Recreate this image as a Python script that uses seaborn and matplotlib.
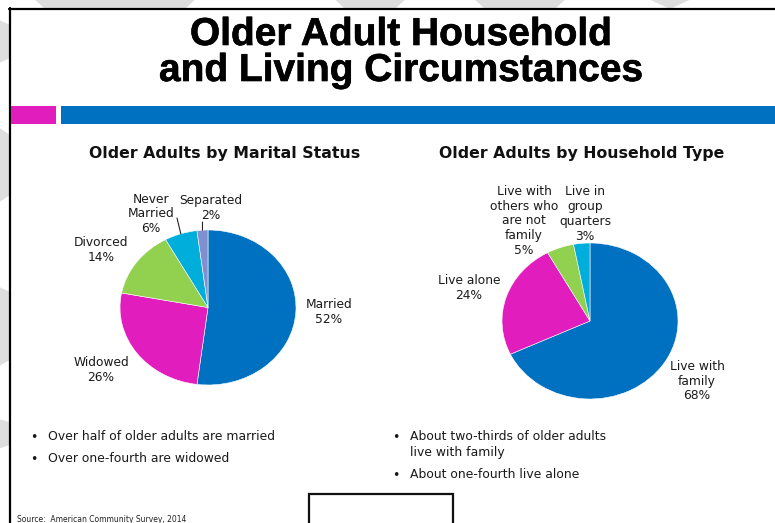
import numpy as np
import matplotlib
matplotlib.use("Agg")
import matplotlib.pyplot as plt
import matplotlib.patheffects as pe
from matplotlib.patches import Rectangle, Polygon
import seaborn as sns

# ---- data -------------------------------------------------------------
marital_labels = ["Married", "Widowed", "Divorced", "Never\nMarried", "Separated"]
marital_values = [52, 26, 14, 6, 2]

household_labels = ["Live with\nfamily", "Live alone",
                    "Live with\nothers who\nare not\nfamily",
                    "Live in\ngroup\nquarters"]
household_values = [68, 24, 5, 3]

title_text = "Older Adult Household\nand Living Circumstances"
marital_title = "Older Adults by Marital Status"
household_title = "Older Adults by Household Type"
marital_notes = ["Over half of older adults are married",
                 "Over one-fourth are widowed"]
household_notes = ["About two-thirds of older adults\nlive with family",
                   "About one-fourth live alone"]
source_text = "Source:  American Community Survey, 2014"

# ---- style ------------------------------------------------------------
sns.set_theme(style="white")
plt.rcParams["font.family"] = ["DejaVu Sans"]

BLUE = "#0070C0"
MAGENTA = "#E21DBD"
GREEN = "#92D050"
CYAN = "#00AEDB"
LAVENDER = "#7F8FD0"
marital_colors = [BLUE, MAGENTA, GREEN, CYAN, LAVENDER]
household_colors = [BLUE, MAGENTA, GREEN, CYAN]

W, H = 775, 523
fig = plt.figure(figsize=(W / 100, H / 100), dpi=100)
fig.patch.set_facecolor("white")


def fx(x):
    return x / W


def fy(y):
    return 1 - y / H


def px_rect(x0, y0, x1, y1, **kw):
    return Rectangle((fx(x0), fy(y1)), (x1 - x0) / W, (y1 - y0) / H,
                     transform=fig.transFigure, **kw)


# faint diagonal stripes behind the slide
grey = "#DEDEDE"
stripe_shapes = [
    [(30, -5), (200, -5), (185, 9), (45, 9)],
    [(330, -5), (410, -5), (395, 9), (345, 9)],
    [(470, -5), (570, -5), (555, 9), (485, 9)],
    [(640, -5), (700, -5), (670, 9)],
    [(-5, 18), (10, 25), (10, 58), (-5, 65)],
    [(-5, 125), (10, 135), (10, 195), (-5, 205)],
    [(-5, 285), (10, 292), (10, 360), (-5, 368)],
    [(-5, 418), (10, 422), (10, 445), (-5, 450)],
]
for pts in stripe_shapes:
    fig.patches.append(Polygon([(fx(a), fy(b)) for a, b in pts], closed=True,
                               transform=fig.transFigure, facecolor=grey,
                               edgecolor="none", zorder=0))

# slide body with its border
fig.patches.append(px_rect(10, 9, 800, 540, facecolor="white",
                           edgecolor="none", zorder=1))
fig.lines.append(plt.Line2D([fx(9), fx(800)], [fy(9), fy(9)],
                            transform=fig.transFigure, color="black",
                            linewidth=1.6, zorder=2))
fig.lines.append(plt.Line2D([fx(10), fx(10)], [fy(8), fy(540)],
                            transform=fig.transFigure, color="black",
                            linewidth=1.6, zorder=2))

# header bars
fig.patches.append(px_rect(11, 106, 56, 124, facecolor=MAGENTA,
                           edgecolor="none", zorder=2))
fig.patches.append(px_rect(61, 106, 800, 124, facecolor=BLUE,
                           edgecolor="none", zorder=2))

# title
fig.text(fx(401), fy(53), title_text, ha="center", va="center",
         fontsize=28, fontweight="bold", family="Liberation Sans",
         linespacing=1.0, color="black", zorder=3,
         path_effects=[pe.withStroke(linewidth=0.45, foreground="black")])

# panel headings
fig.text(fx(225), fy(153), marital_title, ha="center", va="center",
         fontsize=11.3, fontweight="bold", color="#111111", zorder=3)
fig.text(fx(582), fy(153), household_title, ha="center", va="center",
         fontsize=11.3, fontweight="bold", color="#111111", zorder=3)


def draw_pie(cx, cy, rx, ry, values, colors):
    ax = fig.add_axes([fx(cx - rx), fy(cy + ry), 2 * rx / W, 2 * ry / H])
    ax.pie(values, colors=colors, startangle=90, counterclock=False,
           wedgeprops=dict(edgecolor="white", linewidth=0.4))
    ax.set_aspect("auto")
    ax.set_xlim(-1, 1)
    ax.set_ylim(-1, 1)
    ax.axis("off")
    ax.set_zorder(3)
    return ax


def mid_point(values, i):
    total = float(sum(values))
    start = 90 - 360 * sum(values[:i]) / total
    end = 90 - 360 * sum(values[:i + 1]) / total
    a = np.deg2rad((start + end) / 2)
    return np.cos(a), np.sin(a)


label_kw = dict(ha="center", va="center", fontsize=8.8, linespacing=1.17,
                color="#1a1a1a", zorder=4)

# marital status pie
ax1 = draw_pie(208, 307.5, 88, 77.5, marital_values, marital_colors)
marital_pos = [(329, 312), (101, 370), (101, 250), (151, 214), (211, 208)]
for lab, v, (x, y) in zip(marital_labels, marital_values, marital_pos):
    fig.text(fx(x), fy(y), f"{lab}\n{v}%", **label_kw)
# leader lines for the two thin slices
for i, (tx, ty) in [(3, (177, 218)), (4, (202.5, 222))]:
    ax1.annotate("", xy=mid_point(marital_values, i), xycoords="data",
                 xytext=(tx, H - ty), textcoords="figure pixels",
                 arrowprops=dict(arrowstyle="-", color="#222222", lw=0.8,
                                 shrinkA=0, shrinkB=0))

# household type pie
ax2 = draw_pie(590, 321, 88, 78, household_values, household_colors)
household_pos = [(697, 381), (469, 288), (524, 221), (585, 214)]
for lab, v, (x, y) in zip(household_labels, household_values, household_pos):
    fig.text(fx(x), fy(y), f"{lab}\n{v}%", **label_kw)

# bullet notes
note_kw = dict(ha="left", va="center", fontsize=8.9, color="#1a1a1a", zorder=4)
for txt, y in zip(marital_notes, [437, 459]):
    fig.text(fx(30), fy(y), "\u2022", **note_kw)
    fig.text(fx(48), fy(y), txt, **note_kw)
for txt, y in zip(household_notes, [444.5, 475]):
    fig.text(fx(392), fy(437 if "\n" in txt else y), "\u2022", **note_kw)
    fig.text(fx(410), fy(y), txt, linespacing=1.3, **note_kw)

# source line
fig.text(fx(17), fy(519.5), source_text, ha="left", va="center",
         fontsize=5.5, color="#222222", zorder=4)

# empty frame at the bottom
fig.patches.append(px_rect(309, 494, 453, 540, facecolor="none",
                           edgecolor="#111111", linewidth=1.6, zorder=4))

fig.savefig("out.png", dpi=100)
